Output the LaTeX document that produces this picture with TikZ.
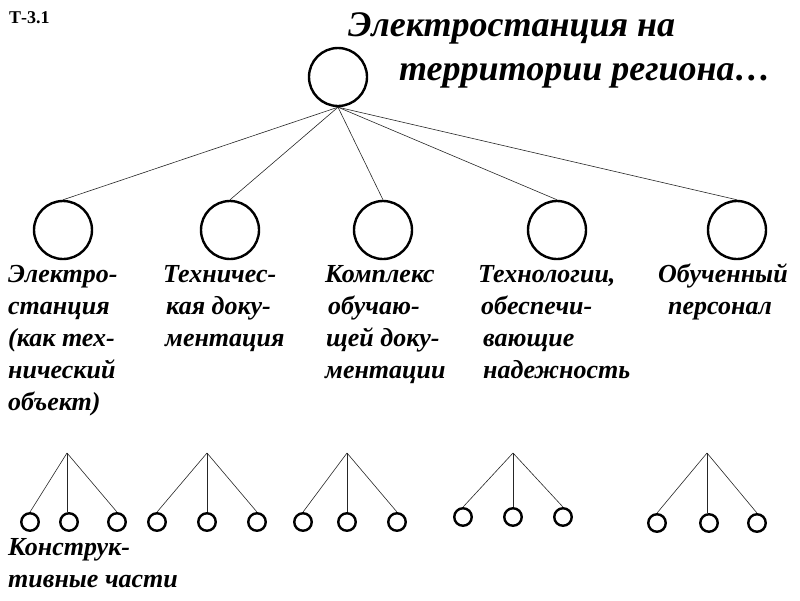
\documentclass[tikz,border=0pt]{standalone}
\usepackage{fontspec}
\setmainfont{Liberation Serif}
\usetikzlibrary{positioning}

\begin{document}
\begin{tikzpicture}[x=1pt, y=-1pt,
  big/.style={circle, draw, line width=2.4pt, minimum size=58pt, inner sep=0pt},
  leaf/.style={circle, draw, line width=2.4pt, minimum size=17.5pt, inner sep=0pt},
  link/.style={line width=0.6pt, black!85},
  lbl/.style={font=\fontsize{26}{32}\selectfont\bfseries\itshape, align=left, anchor=base west, inner sep=0pt}]
\useasboundingbox (0,0) rectangle (800,600);
% header
\node[anchor=base west, inner sep=0pt, font=\fontsize{18}{18}\selectfont\bfseries] (code) at (9,23) {Т-3.1};
\node[anchor=base west, inner sep=0pt, font=\fontsize{36}{43}\selectfont\bfseries\itshape] (title1) at (348,36) {Электростанция на};
\node[anchor=base west, inner sep=0pt, font=\fontsize{36}{43}\selectfont\bfseries\itshape] (title2) at (399,80) {территории региона…};
% root and the five parts
\node[big] (root) at (338,77) {};
\foreach \i/\x in {1/63,2/230,3/383,4/557,5/737}{
  \node[big] (c\i) at (\x,230) {};
  \draw[link] (root.south) -- (c\i.north);
}
% labels (anchored at the baseline of the last line)
\node[lbl] (l1) at (8,410) {Электро-\\станция\\(как тех-\\нический\\объект)};
\node[lbl] (l2) at (163,346) {Техничес-\\\hspace{3pt}кая доку-\\\hspace{2pt}ментация};
\node[lbl] (l3) at (325,378) {Комплекс\\\hspace{3pt}обучаю-\\\hspace{1pt}щей доку-\\ментации};
\node[lbl] (l4) at (478,378) {Технологии,\\\hspace{3pt}обеспечи-\\\hspace{5pt}вающие\\\hspace{5pt}надежность};
\node[lbl] (l5) at (658,314) {Обученный\\\hspace{10pt}персонал};
% small subtrees
\foreach \n/\ax/\l/\m/\r/\ly in {1/67/30/69/117/522, 2/207/157/207/257/522,
    3/347/303/347/397/522, 4/513/463/513/563/517, 5/707/657/709/757/523}{
  \coordinate (a\n) at (\ax,453);
  \node[leaf] (s\n1) at (\l,\ly) {};
  \node[leaf] (s\n2) at (\m,\ly) {};
  \node[leaf] (s\n3) at (\r,\ly) {};
  \draw[link] (a\n) -- (s\n1.north);
  \draw[link] (a\n) -- (a\n |- s\n2.north);
  \draw[link] (a\n) -- (s\n3.north);
}
\node[lbl] (l6) at (8,587) {Конструк-\\тивные части};
\end{tikzpicture}
\end{document}
